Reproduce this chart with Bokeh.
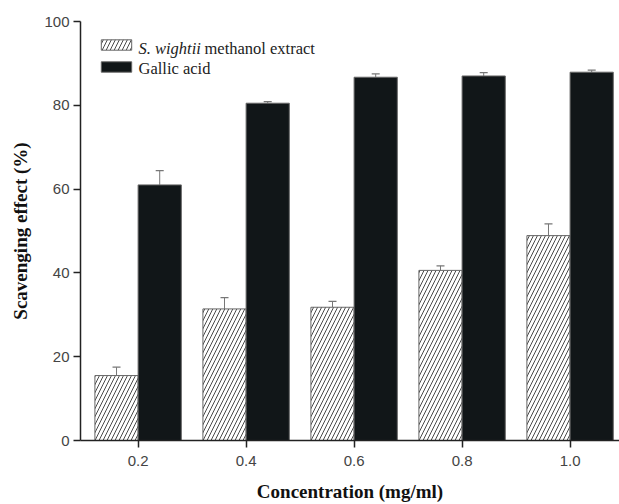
from bokeh.plotting import figure
from bokeh.models import (ColumnDataSource, Whisker, TeeHead, Legend, LegendItem,
                          Label, Range1d, FixedTicker)
from bokeh.transform import dodge
from bokeh.embed import file_html
from bokeh.resources import INLINE

# ---- data ----
conc = [0.2, 0.4, 0.6, 0.8, 1.0]
x_tick_labels = ["0.2", "0.4", "0.6", "0.8", "1.0"]
extract = [15.5, 31.4, 31.8, 40.6, 48.9]
extract_err = [2.0, 2.7, 1.4, 1.1, 2.8]
gallic = [61.0, 80.5, 86.7, 87.0, 87.9]
gallic_err = [3.4, 0.4, 0.8, 0.8, 0.5]
y_ticks = [0, 20, 40, 60, 80, 100]
series_names = ["S. wightii", " methanol extract", "Gallic acid"]

src = ColumnDataSource(dict(
    conc=conc,
    extract=extract,
    extract_up=[v + e for v, e in zip(extract, extract_err)],
    gallic=gallic,
    gallic_up=[v + e for v, e in zip(gallic, gallic_err)],
))

BW = 0.08
p = figure(width=619, height=504, output_backend="svg", toolbar_location=None,
           x_range=Range1d(0.0933, 1.0915), y_range=Range1d(0, 100),
           min_border_left=80, min_border_right=0, min_border_top=21, min_border_bottom=63)
p.outline_line_color = None
p.grid.visible = False
p.background_fill_color = "white"
p.border_fill_color = "white"

r1 = p.vbar(x=dodge("conc", -BW / 2, range=p.x_range), top="extract", width=BW, source=src,
            fill_color="white", line_color="#666666", line_width=1,
            hatch_pattern="/", hatch_color="#4a4a4a", hatch_scale=8, hatch_weight=1.0)
r2 = p.vbar(x=dodge("conc", BW / 2, range=p.x_range), top="gallic", width=BW, source=src,
            fill_color="#111618", line_color="#666666", line_width=1)

for col_lo, col_up, off in [("extract", "extract_up", -BW / 2), ("gallic", "gallic_up", BW / 2)]:
    w = Whisker(base=dodge("conc", off, range=p.x_range), lower=col_lo, upper=col_up, source=src,
                line_color="#777777", line_width=1,
                upper_head=TeeHead(size=8, line_color="#777777", line_width=1.2),
                lower_head=None)
    p.add_layout(w)

# axes
for ax in (p.xaxis[0], p.yaxis[0]):
    ax.axis_line_color = "#222222"
    ax.axis_line_width = 1.5
    ax.major_tick_line_color = "#222222"
    ax.major_tick_line_width = 1.5
    ax.major_tick_out = 7
    ax.major_tick_in = 0
    ax.minor_tick_line_color = None
    ax.major_label_text_font = "Liberation Sans"
    ax.major_label_text_font_size = "15px"
    ax.major_label_text_color = "#444444"
    ax.axis_label_text_font = "Liberation Serif"
    ax.axis_label_text_font_style = "bold"
    ax.axis_label_text_font_size = "19px"
    ax.axis_label_text_color = "#111111"

p.xaxis.ticker = FixedTicker(ticks=conc)
p.xaxis.major_label_overrides = {c: t for c, t in zip(conc, x_tick_labels)}
p.xaxis.major_label_standoff = 8
p.xaxis.axis_label = "Concentration (mg/ml)"
p.xaxis.axis_label_standoff = 12

p.yaxis.ticker = FixedTicker(ticks=y_ticks)
p.yaxis.major_label_standoff = 4
p.yaxis.axis_label = "Scavenging effect (%)"
p.yaxis.axis_label_standoff = 10


def px2x(px):
    return 0.0933 + (px - 80) / 540.0


def py2y(py):
    return (441 - py) / 4.2


# legend swatches
legend = Legend(items=[LegendItem(label="", renderers=[r1]),
                       LegendItem(label="", renderers=[r2])],
                location=(17, 367), orientation="vertical",
                glyph_width=38, glyph_height=13, label_height=13, label_width=0,
                spacing=9, padding=0, margin=0,
                border_line_color=None, background_fill_alpha=0)
p.add_layout(legend)

common = dict(text_font="Liberation Serif", text_font_size="16.5px", text_color="#222222",
              text_baseline="middle", text_align="left")
p.add_layout(Label(x=px2x(138), y=py2y(48), text=series_names[0], text_font_style="italic", **common))
p.add_layout(Label(x=px2x(204), y=py2y(48), text=series_names[1], **common))
p.add_layout(Label(x=px2x(138), y=py2y(68), text=series_names[2], **common))

open("out.html", "w").write(file_html(p, INLINE))
